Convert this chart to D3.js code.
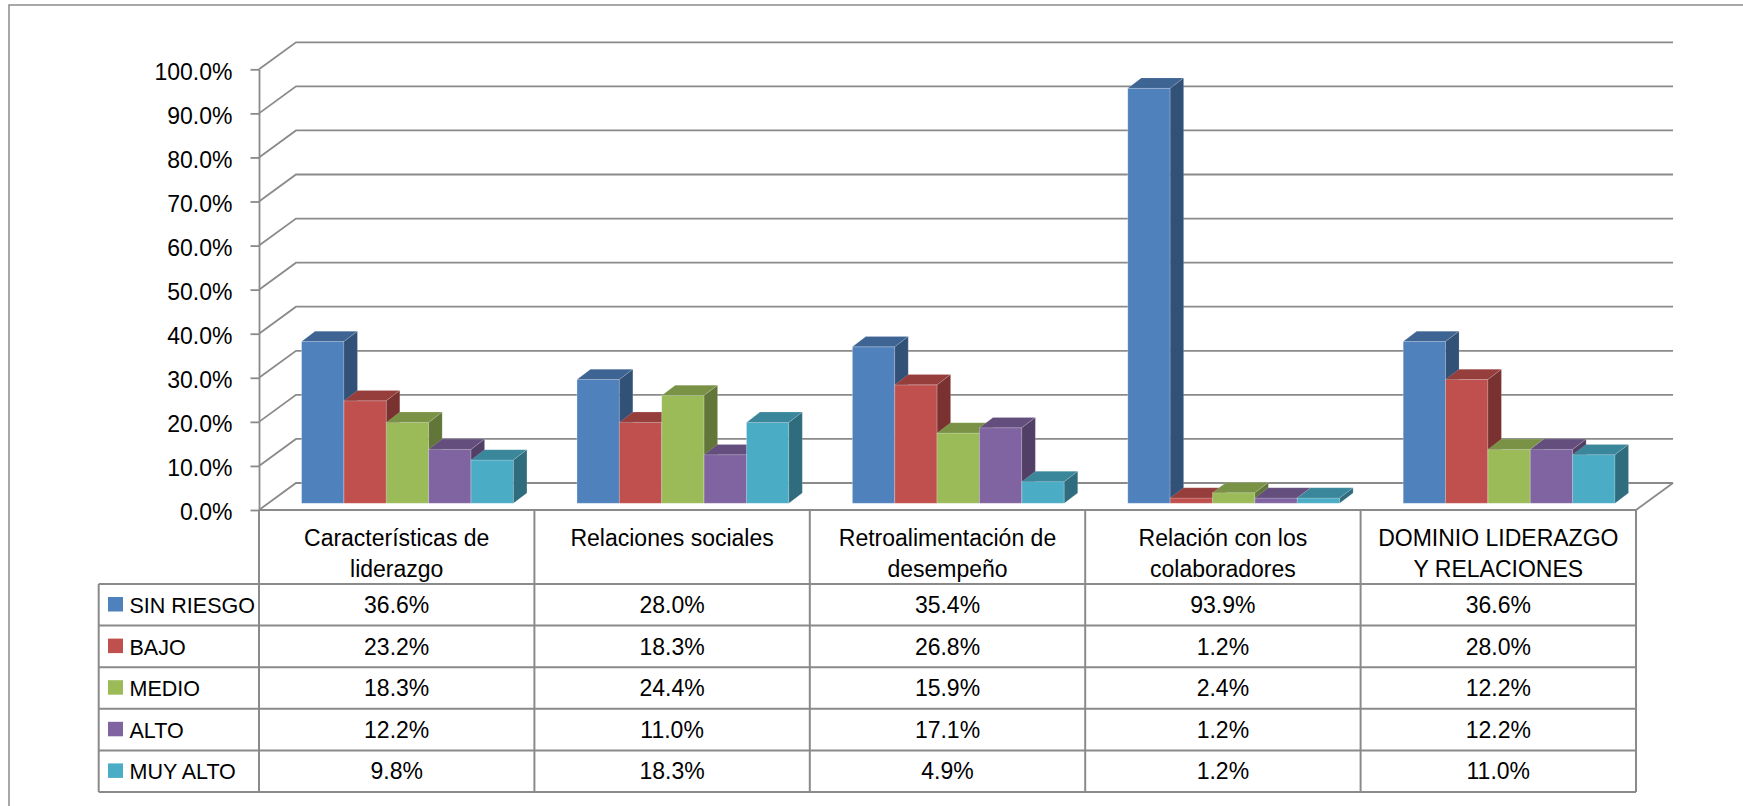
<!DOCTYPE html>
<html>
<head>
<meta charset="utf-8">
<script src="https://cdn.jsdelivr.net/npm/d3@7"></script>
<style>
  body { margin: 0; background: #fff; }
  text { font-family: 'Liberation Sans', Arial, sans-serif; fill: #000; }
</style>
</head>
<body>
<div id="chart"></div>
<script>
// categories (line breaks as in the data table header)
const categories = [
  'Características de\nliderazgo',
  'Relaciones sociales',
  'Retroalimentación de\ndesempeño',
  'Relación con los\ncolaboradores',
  'DOMINIO LIDERAZGO\nY RELACIONES'
]
const series = ['SIN RIESGO', 'BAJO', 'MEDIO', 'ALTO', 'MUY ALTO']
const colors = ['#4F81BD', '#C0504D', '#9BBB59', '#8064A2', '#4BACC6']

// values in %
const sinRiesgo = [36.6, 28.0, 35.4, 93.9, 36.6]
const bajo = [23.2, 18.3, 26.8, 1.2, 28.0]
const medio = [18.3, 24.4, 15.9, 2.4, 12.2]
const alto = [12.2, 11.0, 17.1, 1.2, 12.2]
const muyAlto = [9.8, 18.3, 4.9, 1.2, 11.0]
const values = [sinRiesgo, bajo, medio, alto, muyAlto]

const yTicks = [0, 0.1, 0.2, 0.3, 0.4, 0.5, 0.6, 0.7, 0.8, 0.9, 1.0]

const width = 1743
const height = 806
const plot = { left: 259, right: 1636, top: 69.3, bottom: 510, backRight: 1673 }
const wall = { dx: 37, dy: -27 }
const bar = { shift: 10.8, base: 503.3, dx: 13.5, dy: -10.3 }
const table = { left: 98.7, headBottom: 584, rowH: 41.6 }
const gray = '#8a8a8a'
const fontSize = 23

const svg = d3.select('#chart')
  .append('svg')
  .attr('width', width)
  .attr('height', height)

// outer frame (runs off the right and bottom edge)
svg.append('rect')
  .attr('x', 9).attr('y', 5)
  .attr('width', width).attr('height', height)
  .attr('fill', 'none')
  .attr('stroke', '#8c8c8c')
  .attr('stroke-width', 1.5)

const y = d3.scaleLinear().domain([0, 1]).range([plot.bottom, plot.top])
const yBar = d3.scaleLinear().domain([0, 100]).range([bar.base, bar.base - 442])

const x = d3.scaleBand().domain(categories).range([plot.left, plot.right])
const xs = d3.scaleBand().domain(series).range([0, x.bandwidth()]).paddingOuter(0.75)

// walls: side-wall diagonals + back-wall gridlines
const grid = svg.append('g')
  .attr('fill', 'none')
  .attr('stroke', gray)
  .attr('stroke-width', 1.8)

grid.selectAll('path.grid')
  .data(yTicks)
  .join('path')
  .attr('class', 'grid')
  .attr('d', d => `M${plot.left},${y(d)}l${wall.dx},${wall.dy}H${plot.backRight}`)

// right edge of the floor
grid.append('path')
  .attr('d', `M${plot.right},${y(0)}l${wall.dx},${wall.dy}`)

// y axis
const yAxis = svg.append('g')
  .attr('transform', `translate(${plot.left},0)`)
  .call(d3.axisLeft(y)
    .tickValues(yTicks)
    .tickFormat(d3.format('.1%'))
    .tickSize(8.5)
    .tickSizeOuter(0)
    .tickPadding(18))

yAxis.select('.domain').attr('stroke', gray).attr('stroke-width', 1.8)
yAxis.selectAll('.tick line').attr('stroke', gray).attr('stroke-width', 1.8)
yAxis.selectAll('.tick text')
  .attr('font-size', fontSize)
  .attr('font-family', "'Liberation Sans', Arial, sans-serif")
  .attr('fill', '#000')
  .attr('dy', '0.43em')

// 3D bars
const bars = svg.append('g')
categories.forEach((cat, i) => {
  series.forEach((s, j) => {
    const v = values[j][i]
    const x0 = x(cat) + xs(s) + bar.shift
    const x1 = x0 + xs.bandwidth()
    const yt = yBar(v)
    const base = yBar(0)
    const c = d3.color(colors[j])
    const g = bars.append('g')

    g.append('rect')
      .attr('x', x0).attr('y', yt)
      .attr('width', x1 - x0).attr('height', base - yt)
      .attr('fill', colors[j])
      .attr('stroke', '#fff').attr('stroke-opacity', 0.35).attr('stroke-width', 0.8)

    g.append('path')
      .attr('d', `M${x0},${yt}H${x1}l${bar.dx},${bar.dy}H${x0 + bar.dx}Z`)
      .attr('fill', c.darker(0.7))
      .attr('stroke', '#fff').attr('stroke-opacity', 0.25).attr('stroke-width', 0.6)

    g.append('path')
      .attr('d', `M${x1},${yt}l${bar.dx},${bar.dy}V${base + bar.dy}L${x1},${base}Z`)
      .attr('fill', c.darker(1.3))
      .attr('stroke', '#fff').attr('stroke-opacity', 0.25).attr('stroke-width', 0.6)
  })
})

// data table
const tbl = svg.append('g')
  .attr('stroke', gray)
  .attr('stroke-width', 2)
  .attr('fill', 'none')

const rowTops = series.map((s, j) => table.headBottom + j * table.rowH)
const tableBottom = table.headBottom + series.length * table.rowH

// floor front edge / header top
tbl.append('line')
  .attr('x1', plot.left).attr('x2', plot.right)
  .attr('y1', plot.bottom).attr('y2', plot.bottom)

// column lines
const colEdges = categories.map(c => x(c)).concat([plot.right])
tbl.selectAll('line.col')
  .data(colEdges)
  .join('line')
  .attr('class', 'col')
  .attr('x1', d => d).attr('x2', d => d)
  .attr('y1', plot.bottom).attr('y2', tableBottom)

tbl.append('line')
  .attr('x1', table.left).attr('x2', table.left)
  .attr('y1', table.headBottom).attr('y2', tableBottom)

tbl.selectAll('line.row')
  .data(rowTops.concat([tableBottom]))
  .join('line')
  .attr('class', 'row')
  .attr('x1', table.left).attr('x2', plot.right)
  .attr('y1', d => d).attr('y2', d => d)

// header labels
const head = svg.append('g')
  .attr('font-size', fontSize)
  .attr('text-anchor', 'middle')

categories.forEach(cat => {
  const t = head.append('text')
  cat.split('\n').forEach((line, k) => {
    t.append('tspan')
      .attr('x', x(cat) + x.bandwidth() / 2)
      .attr('y', 546 + k * 31)
      .text(line)
  })
})

// legend column
const legend = svg.append('g')
series.forEach((s, j) => {
  legend.append('rect')
    .attr('x', 108).attr('y', rowTops[j] + 13)
    .attr('width', 15).attr('height', 14.5)
    .attr('fill', colors[j])
  legend.append('text')
    .attr('x', 129.5)
    .attr('y', rowTops[j] + 29)
    .attr('font-size', 21.5)
    .text(s)
})

// values
const fmt = d3.format('.1f')
const cells = svg.append('g')
  .attr('font-size', fontSize)
  .attr('text-anchor', 'middle')
series.forEach((s, j) => {
  categories.forEach((cat, i) => {
    cells.append('text')
      .attr('x', x(cat) + x.bandwidth() / 2)
      .attr('y', rowTops[j] + 29)
      .text(fmt(values[j][i]) + '%')
  })
})
</script>
</body>
</html>
